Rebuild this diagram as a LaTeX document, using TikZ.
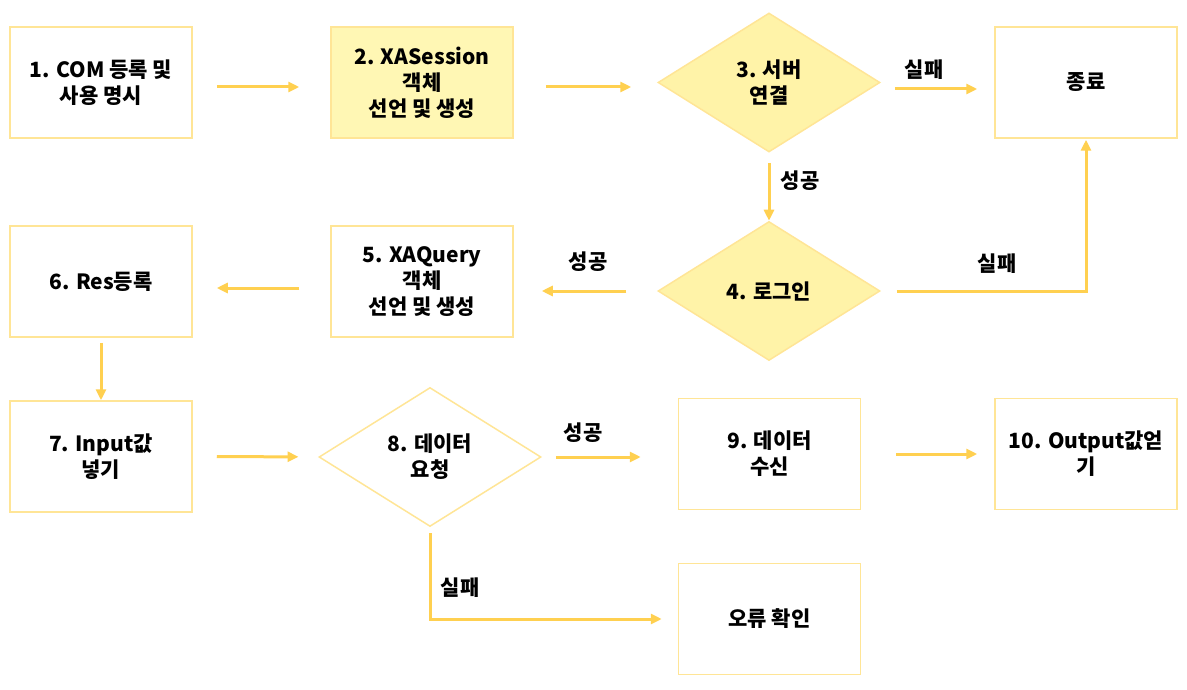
\documentclass[tikz,border=0pt]{standalone}
\usepackage{fontspec}
\setmainfont{Noto Sans CJK KR}
\usetikzlibrary{positioning, shapes.geometric, arrows.meta}
\definecolor{boxline}{RGB}{255,229,150}
\definecolor{flowline}{RGB}{255,208,80}
\definecolor{stepfill}{RGB}{255,247,180}
\definecolor{askfill}{RGB}{255,243,168}

\begin{document}
\begin{tikzpicture}[x=1pt, y=-1pt,
        every node/.style={font=\fontsize{21}{26}\selectfont\bfseries, align=center},
        stepbox/.style={draw=boxline, line width=1.5pt, minimum width=182pt, minimum height=111pt, inner sep=0pt},
        askbox/.style={draw=boxline, line width=1.5pt, diamond, shape aspect=1.6, minimum width=222pt, minimum height=139pt, inner sep=0pt},
        flow/.style={draw=flowline, line width=3pt, ->},
        >={Triangle[length=11pt, width=10pt]}]
        \useasboundingbox (0,0) rectangle (1187,690);

        \node[stepbox]                 (A1)  at (101,82.5)  {1. COM 등록 및\\사용 명시};
        \node[stepbox, fill=stepfill]  (A2)  at (422,82.5)  {2. XASession\\객체\\선언 및 생성};
        \node[askbox, fill=askfill]    (A3)  at (769,82.5)  {3. 서버\\연결};
        \node[stepbox]                 (End) at (1086,82.5) {종료};
        \node[askbox, fill=askfill]    (A4)  at (769,291)   {4. 로그인};
        \node[stepbox]                 (A5)  at (422,281.5) {5. XAQuery\\객체\\선언 및 생성};
        \node[stepbox]                 (A6)  at (101,281.5) {6. Res등록};
        \node[stepbox]                 (A7)  at (101,456.5) {7. Input값\\넣기};
        \node[askbox]                  (A8)  at (430,457)   {8. 데이터\\요청};
        \node[stepbox]                 (A9)  at (769.5,454) {9. 데이터\\수신};
        \node[stepbox]                 (A10) at (1086,454)  {10. Output값얻\\기};
        \node[stepbox]                 (Err) at (769.5,619) {오류 확인};

        \node (F1) at (924,70)  {실패};
        \node (S1) at (800,181) {성공};
        \node (S2) at (588,262) {성공};
        \node (F2) at (997,264) {실패};
        \node (S3) at (583,433) {성공};
        \node (F3) at (460,588) {실패};

        \draw[flow, shorten <=24pt, shorten >=31pt] ([yshift=-4.5pt]A1.east) -- ([yshift=-4.5pt]A2.west);
        \draw[flow, shorten <=32pt, shorten >=26pt] ([yshift=-4.5pt]A2.east) -- ([yshift=-4.5pt]A3.west);
        \draw[flow, shorten <=14pt, shorten >=17pt] ([yshift=-6.5pt]A3.east) -- ([yshift=-6.5pt]End.west);
        \draw[flow, shorten <=10pt] (A3) -- (A4);
        \draw[flow, shorten <=16pt, shorten >=1pt] (A4.east) -| (End.south);
        \draw[flow, shorten <=31pt, shorten >=28pt] (A4.west) -- (A5.east |- A4.west);
        \draw[flow, shorten <=31pt, shorten >=24pt] ([yshift=-6.5pt]A5.west) -- ([yshift=-6.5pt]A6.east);
        \draw[flow, shorten <=5pt] (A6) -- (A7);
        \draw[flow, shorten <=24pt, shorten >=20pt] (A7) -- (A8);
        \draw[flow, shorten <=14pt, shorten >=37pt] (A8) -- (A9.west |- A8.east);
        \draw[flow, shorten <=6pt, shorten >=16pt] (A8.south) |- (Err.west);
        \draw[flow, shorten <=35pt, shorten >=17pt] (A9) -- (A10);
      \end{tikzpicture}
\end{document}
